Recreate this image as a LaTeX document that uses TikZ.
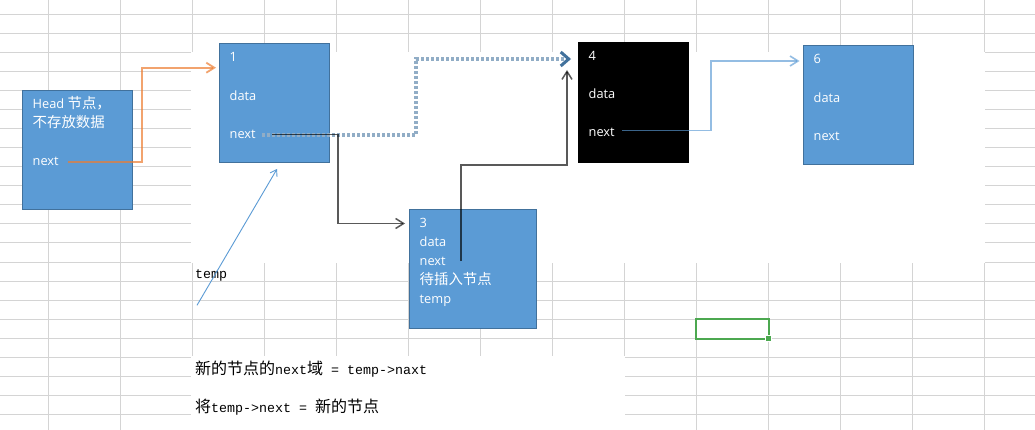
\documentclass[tikz,border=0pt]{standalone}
\usepackage{fontspec}
\setmainfont{Open Sans}
\setmonofont{Liberation Mono}
\newfontfamily\cjk{Noto Sans CJK SC}
\usepackage{tikz}
\usetikzlibrary{arrows.meta}
\usepackage{xcolor}
\definecolor{cell-grid}{RGB}{212,212,212}
\definecolor{node-blue}{RGB}{91,155,213}
\definecolor{node-edge}{RGB}{65,113,156}
\definecolor{ptr-orange}{RGB}{237,125,49}
\definecolor{sel-green}{RGB}{76,168,80}
\newcommand{\zh}[1]{{\cjk\fontsize{14.4}{15}\selectfont #1}}
\newcommand{\zhcell}[1]{{\cjk\fontsize{16}{16}\selectfont #1}}
\tikzstyle{cellgrid}=[draw=cell-grid, line width=1pt]
\tikzstyle{listnode}=[draw=node-edge, fill=node-blue, line width=1pt, anchor=north west, inner sep=0pt]
\tikzstyle{field}=[text=white, anchor=base west, inner sep=0pt, font=\fontsize{12.8}{15}\selectfont]
\tikzstyle{celltext}=[anchor=base west, inner sep=0pt, font=\fontsize{13.33}{16}\selectfont\ttfamily]
\tikzstyle{openhead}=[-{Straight Barb[length=8pt,width=10pt]}]
\tikzstyle{orangeptr}=[openhead, draw=ptr-orange, draw opacity=.7, line width=1.8pt]
\tikzstyle{blueptr}=[openhead, draw=node-blue, draw opacity=.65, line width=1.6pt]
\tikzstyle{darkptr}=[openhead, draw=black, draw opacity=.65, line width=1.5pt]
\tikzstyle{dotptr}=[draw=node-edge!58!white, line width=3.2pt, dash pattern=on 3pt off 2pt,
	-{Straight Barb[length=8pt,width=14pt,line width=3pt,color=node-edge]}]
\tikzstyle{templine}=[draw=node-blue, line width=.9pt, -{Straight Barb[length=6pt,width=8pt]}]

\begin{document}
\begin{tikzpicture}[x=1pt, y=-1pt]
	\useasboundingbox (0,0) rectangle (1035,430);
	\fill[white] (0,0) rectangle (1035,430);
	% sheet
	\foreach \gx in {48,120,...,984} \draw[cellgrid] (\gx,0) -- (\gx,430);
	\foreach \gy in {15,34,...,414} \draw[cellgrid] (0,\gy) -- (1035,\gy);
	\fill[white] (191.4,52.4) rectangle (984.6,262.6);
	\fill[white] (191.4,356.4) rectangle (624.6,431);
	\draw[sel-green, line width=2pt] (696,319) rectangle (769,339);
	\fill[white] (765,335) rectangle (772,342);
	\fill[sel-green] (766,336) rectangle (771,341);
	% list nodes
	\node[listnode, minimum width=109.4pt, minimum height=119.3pt] (head) at (22.3,90) {};
	\node[listnode, minimum width=109.7pt, minimum height=119pt] (n1) at (219,43.3) {};
	\node[listnode, draw=black, fill=black, minimum width=109.7pt, minimum height=119.7pt] (n4) at (578,42) {};
	\node[listnode, minimum width=109.4pt, minimum height=119.3pt] (n6) at (803.3,45) {};
	\node[listnode, minimum width=126.7pt, minimum height=119.3pt] (n3) at (409,209) {};
	\node[field] (headtitle) at (32.5,109) {Head \zh{节点，}};
	\node[field] (headnote) at (32.5,128) {\zh{不存放数据}};
	\node[field] (headnext) at (32.5,165.5) {next};
	\node[field] (n1key) at (229.5,61.5) {1};
	\node[field] (n1data) at (229.5,100.5) {data};
	\node[field] (n1next) at (229.5,138.3) {next};
	\node[field] (n4key) at (588.5,60.5) {4};
	\node[field] (n4data) at (588.5,98.5) {data};
	\node[field] (n4next) at (588.5,136.5) {next};
	\node[field] (n6key) at (813.5,64) {6};
	\node[field] (n6data) at (813.5,102.3) {data};
	\node[field] (n6next) at (813.5,140.3) {next};
	\node[field] (n3key) at (419.5,227.5) {3};
	\node[field] (n3data) at (419.5,246.5) {data};
	\node[field] (n3next) at (419.5,265.3) {next};
	\node[field] (n3note) at (419.5,284) {\zh{待插入节点}};
	\node[field] (n3temp) at (419.5,303.3) {temp};
	% sheet texts
	\node[celltext] (tempname) at (195,278.7) {temp};
	\node[celltext] (stepone) at (195,374.5) {\zhcell{新的节点的}next\zhcell{域} = temp->naxt};
	\node[celltext] (steptwo) at (195,412) {\zhcell{将}temp->next = \zhcell{新的节点}};
	% pointers
	\coordinate (headptr) at (68,162);
	\coordinate (n1in) at (216,67.7);
	\coordinate (n1dot) at (262,135);
	\coordinate (n1ptr) at (272,134.5);
	\coordinate (n4in) at (571,59);
	\coordinate (n3in) at (405,223.5);
	\coordinate (n3ptr) at (461,261);
	\coordinate (n4up) at (567,70);
	\coordinate (n4ptr) at (622,130.5);
	\coordinate (n6in) at (799.5,61);
	\coordinate (tempptr) at (197,305.3);
	\coordinate (n1up) at (277,169);
	\draw[orangeptr] (headptr) -- (142,162) |- (n1in);
	\draw[dotptr] (n1dot) -- (416,135) |- (n4in);
	\draw[darkptr] (n1ptr) -- (338,134.5) |- (n3in);
	\draw[darkptr] (n3ptr) -- (461,165) -| (n4up);
	\draw[blueptr] (n4ptr) -- (711,130.5) |- (n6in);
	\draw[templine] (tempptr) -- (n1up);
\end{tikzpicture}
\end{document}
